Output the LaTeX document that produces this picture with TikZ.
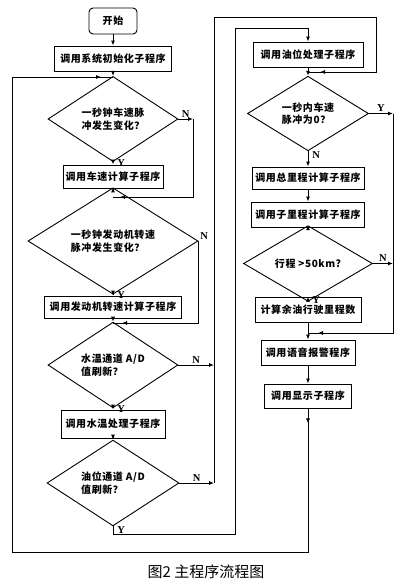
\documentclass[tikz,border=0pt]{standalone}
\usepackage{fontspec}
\setmainfont{Liberation Serif}
\newfontfamily\latin{Liberation Serif}
\newfontfamily\cjk{Noto Sans CJK SC}[LetterSpace=6]
\newfontfamily\cjkcap{Noto Sans CJK SC}
\usetikzlibrary{shapes.geometric,arrows.meta,decorations.markings}

\tikzset{
    >={Latex[length=5pt,width=4pt]},
    every node/.style={font=\cjk\bfseries\fontsize{10}{12.5}\selectfont},
    link/.style={draw, line width=0.9pt},
    flow/.style={link, ->},
    arrowat/.style={postaction={decorate,
        decoration={markings, mark=at position #1 with {\arrow{>}}}}},
    startbox/.style={draw, line width=0.9pt, rounded corners=4pt,
        minimum width=48, minimum height=26, inner sep=0pt},
    stepbox/.style={draw, line width=0.9pt, minimum height=25, inner sep=0pt},
    test/.style={draw, diamond, line width=0.9pt, inner sep=0pt, align=left},
    yn/.style={font=\latin\bfseries\fontsize{10.5}{10.5}\selectfont, inner sep=1.5pt},
}

\begin{document}
\begin{tikzpicture}[x=1pt, y=-1pt]

    \useasboundingbox (0,0) rectangle (406,582);

    % left column
    \node [startbox] (start) at (113,21) {开始};
    \node [stepbox, minimum width=117] (init) at (113,58.5) {调用系统初始化子程序};
    \coordinate (j1) at (113,77);
    \node [test, minimum width=130, minimum height=66] (d1) at (113,119)
        {一秒钟车速脉\\冲发生变化？};
    \node [stepbox, minimum width=100, minimum height=23] (speed) at (113,176.5)
        {调用车速计算子程序};
    \coordinate (j2) at (113,197);
    \node [test, minimum width=170, minimum height=72] (d2) at (113,241)
        {一秒钟发动机转速\\脉冲发生变化？};
    \node [stepbox, minimum width=137, minimum height=22] (engine) at (113,307)
        {调用发动机转速计算子程序};
    \coordinate (j3) at (113,323);
    \node [test, minimum width=130, minimum height=64] (d3) at (113,365)
        {水温通道 A/D\\值刷新？};
    \node [stepbox, minimum width=104, minimum height=28] (water) at (113,424)
        {调用水温处理子程序};
    \node [test, minimum width=132, minimum height=67] (d5) at (113,483)
        {油位通道 A/D\\值刷新？};
    \coordinate (y5) at (113,534);

    % right column
    \coordinate (j0) at (235,28);
    \node [stepbox, minimum width=110] (oil) at (308,54.5) {调用油位处理子程序};
    \coordinate (j4) at (308,72);
    \node [test, minimum width=121, minimum height=67] (d4) at (308,113.5)
        {一秒内车速\\脉冲为0？};
    \node [stepbox, minimum width=112, minimum height=22] (total) at (308,178)
        {调用总里程计算子程序};
    \node [stepbox, minimum width=113] (trip) at (308,214.5) {调用子里程计算子程序};
    \node [test, minimum width=129, minimum height=43] (d6) at (308,263.5)
        {行程 >50km?};
    \node [stepbox, minimum width=106] (range) at (308,309.5) {计算余油行驶里程数};
    \coordinate (j5) at (308,333);
    \node [stepbox, minimum width=94] (voice) at (308,352.5) {调用语音报警程序};
    \node [stepbox, minimum width=87, minimum height=24] (disp) at (308,396)
        {调用显示子程序};

    % side corners
    \coordinate (n1) at (193,119);
    \coordinate (n3) at (214,365);
    \coordinate (n5) at (214,483);
    \coordinate (r1) at (376,17);
    \coordinate (n4) at (393,113.5);
    \coordinate (n6) at (393,263.5);

    % main flow
    \draw [flow] (start) -- (init);
    \draw [flow] (init) -- (d1);
    \draw [flow] (d1) -- node [yn, right=2.5pt, pos=0.3] {Y} (speed);
    \draw [flow] (speed) -- (d2);
    \draw [flow] (d2) -- node [yn, right=2.5pt, pos=0.3] {Y} (engine);
    \draw [flow] (engine) -- (d3);
    \draw [flow] (d3) -- node [yn, right=2.5pt, pos=0.3] {Y} (water);
    \draw [flow] (water) -- (d5);
    \draw [flow] (d5) -- node [yn, right=2.5pt] {Y} (y5) -| (j0) -| (oil);

    \draw [flow] (oil) -- (d4);
    \draw [flow] (d4) -- node [yn, right=2.5pt, pos=0.25] {N} (total);
    \draw [flow] (total) -- (trip);
    \draw [flow] (trip) -- (d6);
    \draw [flow] (d6) -- node [yn, right=2.5pt, pos=0.3] {Y} (range);
    \draw [flow] (range) -- (voice);
    \draw [flow] (voice) -- (disp);

    % branches
    \draw [flow] (d1.east) -- node [yn, above] {N} (n1);
    \draw [link, arrowat=-7pt] (n1) |- (j2);

    \draw [link, arrowat=-9pt] (d2.east)
        node [yn, above right] {N}
        |- (j3);

    \draw [flow] (d3.east) -- node [yn, above] {N} (n3);
    \draw [flow] (d5.east) -- node [yn, above] {N} (n5);
    \draw [link, arrowat=-12pt] (n5) |- (r1) |- (j4);

    \draw [flow] (d4.east) -- node [yn, above] {Y} (n4);
    \draw [flow] (d6.east) -- node [yn, above] {N} (n6);
    \draw [link, arrowat=-10pt] (n4) |- (j5);

    % back to the start
    \draw [link, arrowat=15pt, arrowat=-12pt]
        (disp) -- (308,552) -| (12,77) -- (j1);

    \node [font=\cjkcap\fontsize{15}{15}\selectfont] (caption) at (206,572)
        {图2 主程序流程图};

\end{tikzpicture}
\end{document}
